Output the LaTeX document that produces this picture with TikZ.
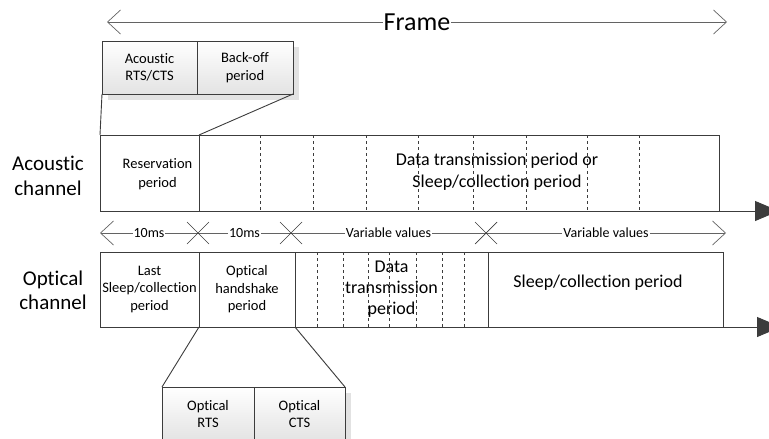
\documentclass[tikz,border=0pt]{standalone}
\usepackage{fontspec}
\setmainfont{Carlito}[Ligatures=NoCommon]
\usetikzlibrary{positioning}
\usetikzlibrary{calc}
\usetikzlibrary{arrows.meta}
\usetikzlibrary{shadows}

\definecolor{linegray}{RGB}{60,60,60}
\definecolor{shadegray}{RGB}{226,226,226}

\begin{document}
\begin{tikzpicture}[x=1pt, y=-1pt,
  % basic styles
  seg/.style={draw=linegray, line width=0.9pt, inner sep=0pt, outer sep=0pt,
    align=center, font=\fontsize{14.5}{17.5}\selectfont},
  popbox/.style={seg, top color=white, bottom color=gray!22,
    drop shadow={shadow xshift=6pt, shadow yshift=-6pt, fill=shadegray, opacity=1}},
  lbl/.style={inner sep=1pt, align=center},
  timeaxis/.style={draw=linegray, line width=1pt, -{Triangle[length=24pt,width=20pt]}},
  dimline/.style={draw=linegray!80, line width=0.7pt},
  openhead/.style={{Straight Barb[length=13pt,width=24pt]}-{Straight Barb[length=13pt,width=24pt]}}
  ]
  \useasboundingbox (0,0) rectangle (769,439);

  % The frame arrow on top
  \coordinate (fleft) at (107,22);
  \coordinate (fright) at (727,22);
  \draw[dimline, openhead] (fleft) -- (fright);
  \node[lbl, fill=white, font=\fontsize{26}{30}\selectfont] (frame) at ($(fleft)!0.5!(fright)$) {Frame};

  % Acoustic RTS/CTS zoom box
  \node[popbox, anchor=north west, minimum width=95, minimum height=53] (arts) at (102,41) {Acoustic\\RTS/CTS};
  \node[popbox, right=0pt of arts, minimum width=96, minimum height=53] (backoff) {Back-off\\period};

  % Acoustic channel
  \node[seg, anchor=north west, minimum width=99, minimum height=76] (resv) at (100,135) {};
  \node[seg, right=0pt of resv, minimum width=520, minimum height=76] (acdata) {};
  \node[lbl, font=\fontsize{14.5}{18.5}\selectfont] (resvtxt) at ([xshift=8pt, yshift=-1pt]resv.center) {Reservation\\period};
  \node[lbl, font=\fontsize{18}{22}\selectfont] (actxt) at (497,172) {Data transmission period or\\Sleep/collection period};
  \foreach \x in {260,313,366,418,473,526,587,639}
    \draw[linegray, dashed, line width=0.6pt] (\x,135) -- (\x,211);
  \draw[linegray, line width=0.9pt] (arts.south west) -- (resv.north west);
  \draw[linegray, line width=0.9pt] (backoff.south east) -- (resv.north east);
  \coordinate (acend) at (779,211);
  \draw[timeaxis] (resv.south west) -- (acend);
  \node[lbl, font=\fontsize{21}{25}\selectfont] (aclabel) at (48,176) {Acoustic\\channel};

  % Time spans between the channels
  \coordinate (d0) at (100,233);
  \coordinate (d1) at (198,233);
  \coordinate (d2) at (291,233);
  \coordinate (d3) at (486,233);
  \coordinate (d4) at (726,233);
  \draw[dimline, openhead] (d0) -- (d4);
  \foreach \c in {d1,d2,d3}
    \draw[linegray, line width=0.7pt] ([shift={(-11pt,11pt)}]\c) -- ([shift={(11pt,-11pt)}]\c)
      ([shift={(-11pt,-11pt)}]\c) -- ([shift={(11pt,11pt)}]\c);
  \node[lbl, fill=white, font=\fontsize{14}{17}\selectfont] (span1) at ($(d0)!0.5!(d1)$) {10ms};
  \node[lbl, fill=white, font=\fontsize{14}{17}\selectfont] (span2) at ($(d1)!0.5!(d2)$) {10ms};
  \node[lbl, fill=white, font=\fontsize{14}{17}\selectfont] (span3) at ($(d2)!0.5!(d3)$) {Variable values};
  \node[lbl, fill=white, font=\fontsize{14}{17}\selectfont] (span4) at ($(d3)!0.5!(d4)$) {Variable values};

  % Optical channel
  \node[seg, anchor=north west, minimum width=99, minimum height=75] (lastsleep) at (100,252) {Last\\Sleep/collection\\period};
  \node[seg, right=0pt of lastsleep, minimum width=96, minimum height=75] (handshake) {Optical\\handshake\\period};
  \node[seg, right=0pt of handshake, minimum width=193, minimum height=75,
    font=\fontsize{18}{21}\selectfont] (optdata) {Data\\transmission\\period};
  \node[seg, right=0pt of optdata, minimum width=235, minimum height=75] (sleep) {};
  \node[lbl, font=\fontsize{18}{22}\selectfont] (sleeptxt) at (598,283) {Sleep/collection period};
  \foreach \x in {317,343,368,389,416,442,464}
    \draw[linegray, dashed, line width=0.6pt] (\x,252) -- (\x,327);
  \coordinate (opend) at (781,327);
  \draw[timeaxis] (lastsleep.south west) -- (opend);
  \node[lbl, font=\fontsize{21}{24}\selectfont] (oplabel) at (53,290) {Optical\\channel};

  % Optical RTS/CTS zoom box
  \node[popbox, anchor=north west, minimum width=92, minimum height=54] (orts) at (162,387) {Optical\\RTS};
  \node[popbox, right=0pt of orts, minimum width=91, minimum height=54] (octs) {Optical\\CTS};
  \draw[linegray, line width=0.9pt] (handshake.south west) -- (orts.north west);
  \draw[linegray, line width=0.9pt] (handshake.south east) -- (octs.north east);
\end{tikzpicture}
\end{document}
